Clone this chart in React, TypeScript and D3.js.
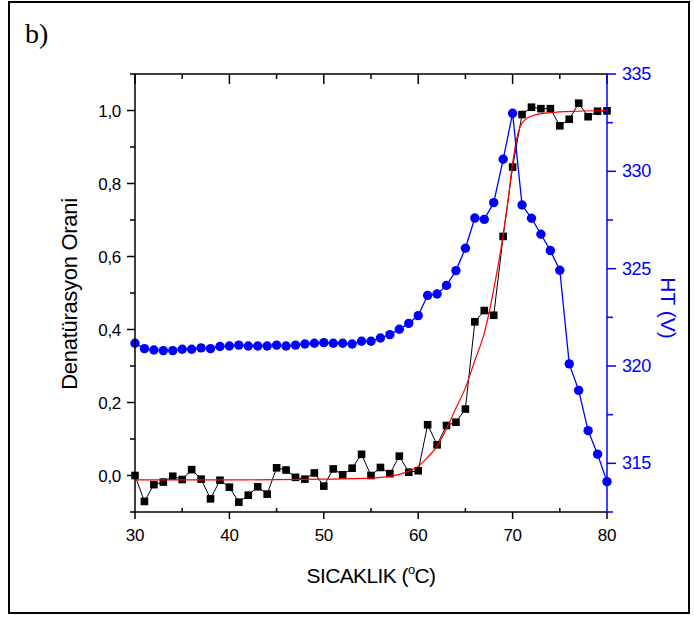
import * as d3 from 'd3'

// sıcaklık (°C), 30..80 step 1
const temps = d3.range(30, 81)

// denatürasyon oranı (black squares)
const denat = [
  0.0, -0.071, -0.025, -0.018, -0.002, -0.011, 0.016, -0.01, -0.064, -0.013,
  -0.032, -0.073, -0.054, -0.031, -0.051, 0.021, 0.015, -0.005, -0.01, 0.007,
  -0.029, 0.018, 0.002, 0.02, 0.058, 0.0, 0.022, 0.005, 0.053, 0.009,
  0.013, 0.139, 0.084, 0.137, 0.146, 0.182, 0.421, 0.452, 0.439, 0.655,
  0.845, 0.989, 1.009, 1.005, 1.005, 0.958, 0.976, 1.02, 0.983, 0.998, 0.999,
]

// HT (V) (blue circles)
const ht = [
  321.17, 320.89, 320.82, 320.79, 320.79, 320.86, 320.86, 320.93, 320.89, 321.0,
  321.03, 321.07, 321.03, 321.03, 321.03, 321.07, 321.03, 321.07, 321.13, 321.17,
  321.2, 321.17, 321.17, 321.13, 321.27, 321.27, 321.44, 321.61, 321.89, 322.19,
  322.59, 323.63, 323.7, 324.14, 324.9, 326.05, 327.6, 327.53, 328.39, 330.62,
  332.98, 328.27, 327.59, 326.77, 325.93, 324.92, 320.11, 318.75, 316.68, 315.47,
  314.06,
]

// fitted curve (red)
const fitX = [30, 40, 50, 55, 57, 58, 59, 60, 61, 62, 63, 64, 65, 66, 67, 68, 69, 69.5, 70, 70.5, 71, 72, 74, 77, 80]
const fitY = [
  -0.012, -0.012, -0.01, -0.007, -0.002, 0.003, 0.012, 0.025, 0.05, 0.08, 0.128, 0.185, 0.24,
  0.315, 0.39, 0.51, 0.66, 0.75, 0.855, 0.93, 0.965, 0.985, 0.994, 0.998, 1.0,
]

const xTicks = [30, 40, 50, 60, 70, 80]
const xMinor = [35, 45, 55, 65, 75]
const leftTicks = [0, 0.2, 0.4, 0.6, 0.8, 1.0]
const leftMinor = [-0.1, 0.1, 0.3, 0.5, 0.7, 0.9, 1.1]
const rightTicks = [315, 320, 325, 330, 335]
const rightMinor = [312.5, 317.5, 322.5, 327.5, 332.5]

const W = 694
const H = 617
const BLUE = '#0000ff'
const FONT = '"Liberation Sans", Arial, sans-serif'

export default function App() {
  const x = d3.scaleLinear().domain([30, 80]).range([135, 607])
  const yL = d3.scaleLinear().domain([-0.1, 1.1]).range([512, 74])
  const yR = d3.scaleLinear().domain([312.5, 335]).range([512, 74])

  const [x0, x1] = x.range()
  const [yb, yt] = yL.range()

  const blackLine = d3
    .line<number>()
    .x((_, i) => x(temps[i]))
    .y((d) => yL(d))
  const blueLine = d3
    .line<number>()
    .x((_, i) => x(temps[i]))
    .y((d) => yR(d))
  const fitLine = d3
    .line<number>()
    .x((_, i) => x(fitX[i]))
    .y((d) => yL(d))
    .curve(d3.curveMonotoneX)

  const fmt = (v: number) => v.toFixed(1).replace('.', ',')

  return (
    <svg
      width={W}
      height={H}
      style={{ position: 'absolute', left: 0, top: 0, background: '#fff' }}
      fontFamily={FONT}
    >
      <rect x={9} y={2} width={680} height={611} fill="none" stroke="#000" strokeWidth={2} />
      <text x={25} y={43} fontFamily='"Liberation Serif", "Times New Roman", serif' fontSize={28}>
        b)
      </text>

      {/* series */}
      <path d={blackLine(denat) ?? ''} fill="none" stroke="#000" strokeWidth={1} />
      {denat.map((d, i) => (
        <rect key={'s' + i} x={x(temps[i]) - 3.8} y={yL(d) - 3.8} width={7.6} height={7.6} fill="#000" />
      ))}
      <path d={fitLine(fitY) ?? ''} fill="none" stroke="#ff0000" strokeWidth={1.2} />
      <path d={blueLine(ht) ?? ''} fill="none" stroke={BLUE} strokeWidth={1.3} />
      {ht.map((d, i) => (
        <circle key={'c' + i} cx={x(temps[i])} cy={yR(d)} r={4.7} fill={BLUE} />
      ))}

      {/* bottom axis */}
      <line x1={x0} x2={x1} y1={yb} y2={yb} stroke="#000" strokeWidth={1.5} />
      {xTicks.map((t) => (
        <g key={'xb' + t}>
          <line x1={x(t)} x2={x(t)} y1={yb} y2={yb + 7} stroke="#000" strokeWidth={1.5} />
          <text x={x(t)} y={yb + 29} fontSize={17} textAnchor="middle" letterSpacing={-0.3}>
            {t}
          </text>
        </g>
      ))}
      {xMinor.map((t) => (
        <line key={'xm' + t} x1={x(t)} x2={x(t)} y1={yb} y2={yb - 4} stroke="#000" strokeWidth={1.5} />
      ))}

      {/* top axis */}
      <line x1={x0} x2={x1} y1={yt} y2={yt} stroke="#000" strokeWidth={1.5} />
      {xTicks.map((t) => (
        <line key={'xt' + t} x1={x(t)} x2={x(t)} y1={yt} y2={yt + 10} stroke="#000" strokeWidth={1.5} />
      ))}
      {xMinor.map((t) => (
        <line key={'xtm' + t} x1={x(t)} x2={x(t)} y1={yt} y2={yt + 5} stroke="#000" strokeWidth={1.5} />
      ))}

      {/* left axis */}
      <line x1={x0} x2={x0} y1={yb + 0.75} y2={yt - 0.75} stroke="#000" strokeWidth={1.5} />
      {leftTicks.map((t) => (
        <g key={'yl' + t}>
          <line x1={x0 - 8} x2={x0} y1={yL(t)} y2={yL(t)} stroke="#000" strokeWidth={1.5} />
          <text x={x0 - 14} y={yL(t) + 6} fontSize={17} textAnchor="end" letterSpacing={-0.3}>
            {fmt(t)}
          </text>
        </g>
      ))}
      {leftMinor.map((t) => (
        <line key={'ylm' + t} x1={x0 - 5} x2={x0} y1={yL(t)} y2={yL(t)} stroke="#000" strokeWidth={1.5} />
      ))}

      {/* right axis */}
      <line x1={x1} x2={x1} y1={yb + 0.75} y2={yt - 0.75} stroke={BLUE} strokeWidth={1.5} />
      {rightTicks.map((t) => (
        <g key={'yr' + t}>
          <line x1={x1} x2={x1 + 9} y1={yR(t)} y2={yR(t)} stroke={BLUE} strokeWidth={1.5} />
          <text x={x1 + 15} y={yR(t) + 6} fontSize={18} fill={BLUE} letterSpacing={-0.4}>
            {t}
          </text>
        </g>
      ))}
      {rightMinor.map((t) => (
        <line key={'yrm' + t} x1={x1} x2={x1 + 6} y1={yR(t)} y2={yR(t)} stroke={BLUE} strokeWidth={1.5} />
      ))}

      {/* titles */}
      <text x={371} y={583} fontSize={21} textAnchor="middle" letterSpacing={-0.6}>
        SICAKLIK (
        <tspan fontSize={13} dy={-9}>
          o
        </tspan>
        <tspan dy={9}>C)</tspan>
      </text>
      <text
        transform={`translate(77, 294) rotate(-90)`}
        fontSize={22}
        textAnchor="middle"
        letterSpacing={-0.3}
      >
        Denatürasyon Orani
      </text>
      <text
        transform={`translate(661, 308) rotate(90)`}
        fontSize={21}
        textAnchor="middle"
        fill={BLUE}
      >
        HT (V)
      </text>
    </svg>
  )
}
